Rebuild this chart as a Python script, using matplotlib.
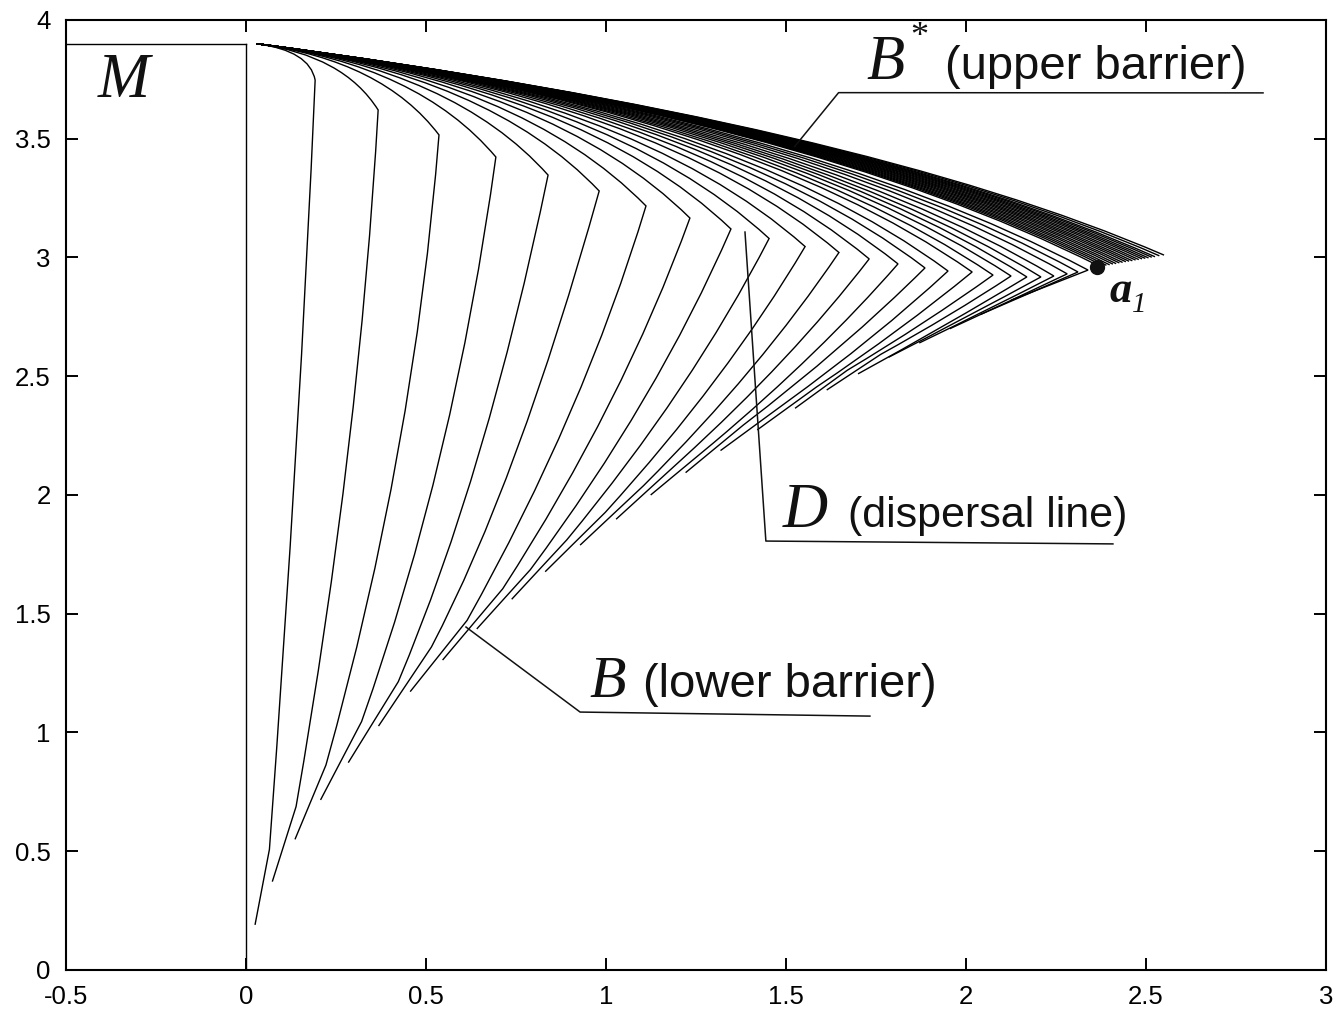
import matplotlib
matplotlib.use("Agg")
import matplotlib.pyplot as plt
from matplotlib.path import Path
from matplotlib.patches import PathPatch

plt.rcParams['axes.unicode_minus'] = False

# common start of all trajectories and the slope they leave it with
start_pt = (0.03, 3.9)
start_slope = -0.2

# corners of the trajectories (they form the dispersal line D)
corner_x = [0.192, 0.367, 0.536, 0.694, 0.839, 0.981, 1.111, 1.233, 1.347, 1.453,
            1.553, 1.647, 1.731, 1.811, 1.886, 1.950, 2.017, 2.075, 2.125, 2.169,
            2.208, 2.244, 2.281, 2.311, 2.339]
corner_y = [3.747, 3.621, 3.516, 3.423, 3.347, 3.280, 3.217, 3.166, 3.120, 3.080,
            3.046, 3.021, 2.994, 2.973, 2.956, 2.943, 2.939, 2.926, 2.922, 2.918,
            2.918, 2.922, 2.931, 2.939, 2.947]
# x of the bend control point of each upper arc (it sits on the start tangent)
ctrl_x = [0.1765, 0.271, 0.379, 0.479, 0.578, 0.674, 0.765, 0.854, 0.934, 1.007,
          1.075, 1.142, 1.200, 1.250, 1.290, 1.330, 1.365, 1.395, 1.420, 1.445,
          1.465, 1.485, 1.500, 1.515, 1.530]
# a point half way down the lower arm
mid_x = [0.139, 0.284, 0.423, 0.543, 0.650, 0.752, 0.900, 1.010, 1.105, 1.205,
         1.305, 1.402, 1.493, 1.575, 1.650, 1.738, 1.812, 1.882, 1.952, 1.940,
         2.000, 2.060, 2.120, 2.177, 2.233]
mid_y = [2.189, 2.189, 2.189, 2.189, 2.189, 2.189, 2.345, 2.386, 2.403, 2.446,
         2.487, 2.530, 2.571, 2.597, 2.625, 2.665, 2.697, 2.726, 2.757, 2.714,
         2.749, 2.781, 2.816, 2.850, 2.884]
# kink where the lower arm turns onto the lower barrier
kink_x = [0.065, 0.139, 0.222, 0.321, 0.423, 0.515, 0.614, 0.713, 0.790, 0.891,
          0.998, 1.104, 1.209, 1.299, 1.381, 1.498, 1.584, 1.670, 1.763, 1.700,
          1.785, 1.870, 1.955, 2.040, 2.125]
kink_y = [0.508, 0.688, 0.863, 1.046, 1.214, 1.360, 1.472, 1.605, 1.686, 1.811,
          1.927, 2.039, 2.148, 2.220, 2.294, 2.387, 2.454, 2.525, 2.592, 2.510,
          2.580, 2.640, 2.700, 2.760, 2.820]
# end points (lower barrier B)
end_x = [0.025, 0.073, 0.136, 0.207, 0.284, 0.368, 0.456, 0.546, 0.641, 0.738,
         0.831, 0.928, 1.028, 1.124, 1.221, 1.318, 1.420, 1.525, 1.613, 1.700,
         1.785, 1.870, 1.955, 2.040, 2.125]
end_y = [0.190, 0.372, 0.550, 0.716, 0.873, 1.027, 1.172, 1.305, 1.436, 1.561,
         1.677, 1.789, 1.898, 2.000, 2.094, 2.187, 2.274, 2.365, 2.442, 2.510,
         2.580, 2.640, 2.700, 2.760, 2.820]

# dense bundle between a1 and the tip of the upper barrier B* (last one is B*)
band_x = [2.372, 2.381, 2.390, 2.399, 2.408, 2.417, 2.426, 2.435, 2.444, 2.453,
          2.462, 2.471, 2.480, 2.489, 2.498, 2.507, 2.516, 2.525, 2.537, 2.550]
band_y = [2.962, 2.965, 2.967, 2.969, 2.972, 2.974, 2.977, 2.979, 2.982, 2.984,
          2.986, 2.989, 2.991, 2.994, 2.996, 2.998, 3.001, 3.003, 3.007, 3.010]
band_ctrl_x = [1.542, 1.551, 1.560, 1.569, 1.578, 1.587, 1.596, 1.605, 1.614, 1.623,
               1.632, 1.641, 1.650, 1.659, 1.668, 1.676, 1.684, 1.691, 1.697, 1.703]

a1_pt = (2.364, 2.96)

# label leader lines
lead_upper = ([1.524, 1.646, 2.825], [3.467, 3.694, 3.693])
lead_disp = ([1.386, 1.444, 2.408], [3.107, 1.806, 1.794])
lead_lower = ([0.611, 0.928, 1.733], [1.444, 1.086, 1.069])

xticks = [-0.5, 0, 0.5, 1, 1.5, 2, 2.5, 3]
xlabels = ['-0.5', '0', '0.5', '1', '1.5', '2', '2.5', '3']
yticks = [0, 0.5, 1, 1.5, 2, 2.5, 3, 3.5, 4]
ylabels = ['0', '0.5', '1', '1.5', '2', '2.5', '3', '3.5', '4']


def on_start_tangent(x):
    return (x, start_pt[1] + start_slope * (x - start_pt[0]))


fig = plt.figure(figsize=(13.42, 10.14), dpi=100)
ax = fig.add_axes([0.0492, 0.0434, 0.9389, 0.9369])
lw = 1.0

for i in range(len(corner_x)):
    c = (corner_x[i], corner_y[i])
    k = (kink_x[i], kink_y[i])
    m = (mid_x[i], mid_y[i])
    q = on_start_tangent(ctrl_x[i])
    # lower arm passes through m
    q2 = (2 * m[0] - (c[0] + k[0]) / 2, 2 * m[1] - (c[1] + k[1]) / 2)
    verts = [start_pt, q, c, q2, k, (end_x[i], end_y[i])]
    codes = [Path.MOVETO, Path.CURVE3, Path.CURVE3, Path.CURVE3, Path.CURVE3, Path.LINETO]
    ax.add_patch(PathPatch(Path(verts, codes), fc='none', ec='black', lw=lw))

for i in range(len(band_x)):
    verts = [start_pt, on_start_tangent(band_ctrl_x[i]), (band_x[i], band_y[i])]
    codes = [Path.MOVETO, Path.CURVE3, Path.CURVE3]
    ax.add_patch(PathPatch(Path(verts, codes), fc='none', ec='black', lw=lw))

# region M
ax.plot([-0.5, 0], [3.9, 3.9], color='black', lw=lw)
ax.plot([0, 0], [0, 3.9], color='black', lw=lw)

ax.plot(*a1_pt, 'o', color='#111111', ms=10)

for lx, ly in (lead_upper, lead_disp, lead_lower):
    ax.plot(lx, ly, color='#111111', lw=1.1)

serif = 'Liberation Serif'
sans = 'Liberation Sans'
ink = '#111111'
ax.text(-0.411, 3.676, 'M', family=serif, style='italic', fontsize=45, color=ink)
ax.text(1.722, 3.751, 'B', family=serif, style='italic', fontsize=45, color=ink)
ax.text(1.869, 3.925, '*', family=serif, fontsize=26, ha='center', va='center', color=ink)
ax.text(1.942, 3.751, '(upper barrier)', family=sans, fontsize=34, color=ink)
ax.text(1.492, 1.866, 'D', family=serif, style='italic', fontsize=45, color=ink)
ax.text(1.672, 1.866, '(dispersal line)', family=sans, fontsize=31, color=ink)
ax.text(0.955, 1.151, 'B', family=serif, style='italic', fontsize=43, color=ink)
ax.text(1.104, 1.151, '(lower barrier)', family=sans, fontsize=34, color=ink)
ax.text(2.398, 2.814, 'a', family=serif, style='italic', weight='bold', fontsize=32, color=ink)
ax.text(2.462, 2.771, '1', family=serif, style='italic', fontsize=21, color=ink)

ax.set_xlim(-0.5, 3)
ax.set_ylim(0, 4)
ax.set_xticks(xticks)
ax.set_xticklabels(xlabels, family=sans, fontsize=18.5)
ax.set_yticks(yticks)
ax.set_yticklabels(ylabels, family=sans, fontsize=18.5)
ax.tick_params(direction='in', length=8.6, width=1.4, top=True, right=True)
ax.tick_params(axis='x', pad=11)
ax.tick_params(axis='y', pad=11)
for sp in ax.spines.values():
    sp.set_linewidth(1.5)

fig.savefig('out.png', dpi=100)
